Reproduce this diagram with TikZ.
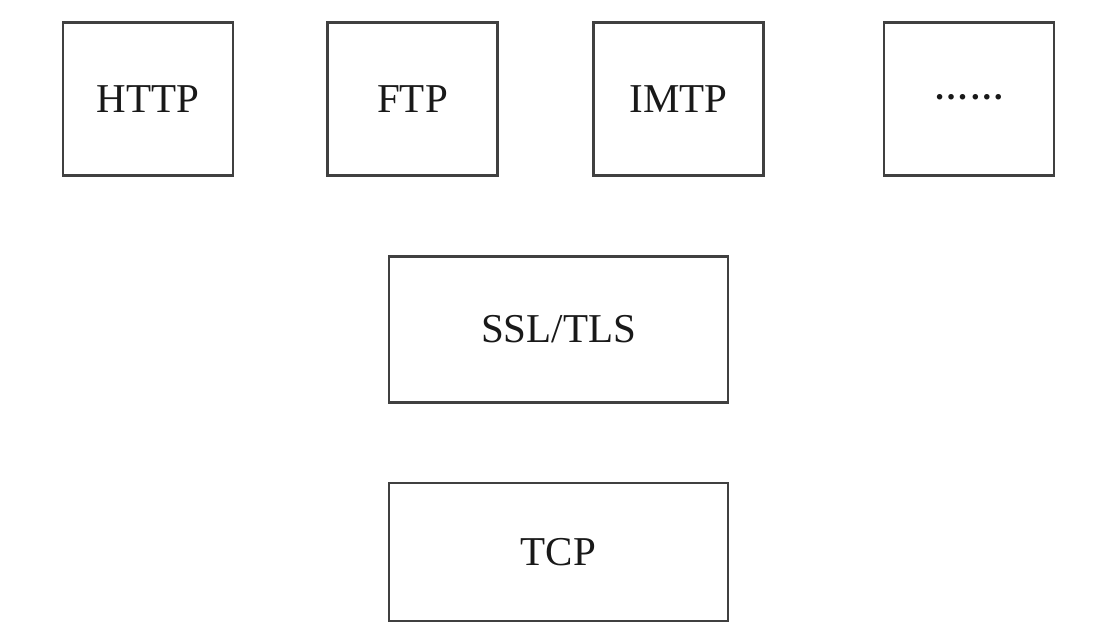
\documentclass[tikz,border=0pt]{standalone}
\usepackage{fontspec}
\setmainfont{Liberation Serif}
\begin{document}
\begin{tikzpicture}[x=1pt,y=-1pt,
  proto/.style={draw=black!75, line width=2.2pt, minimum width=170pt, minimum height=153pt,
    inner sep=0pt, font=\fontsize{41}{41}\selectfont, text=black!90},
  layer/.style={proto, minimum width=339pt},
]
\useasboundingbox (0,0) rectangle (1120,640);
\fill[white] (0,0) rectangle (1120,640);
\node[proto] (http) at (148,99) {HTTP};
\node[proto] (ftp) at (412.5,99) {FTP};
\node[proto] (imtp) at (678.5,99) {IMTP};
\node[proto, font=\fontsize{34}{34}\selectfont\bfseries] (more) at (969,99) {\raisebox{4pt}{…\kern2pt…}};
\node[layer, minimum height=146pt] (ssl) at (558.5,329.5) {SSL/TLS};
\node[layer, minimum height=138pt] (tcp) at (558.5,552) {TCP};
\end{tikzpicture}
\end{document}
